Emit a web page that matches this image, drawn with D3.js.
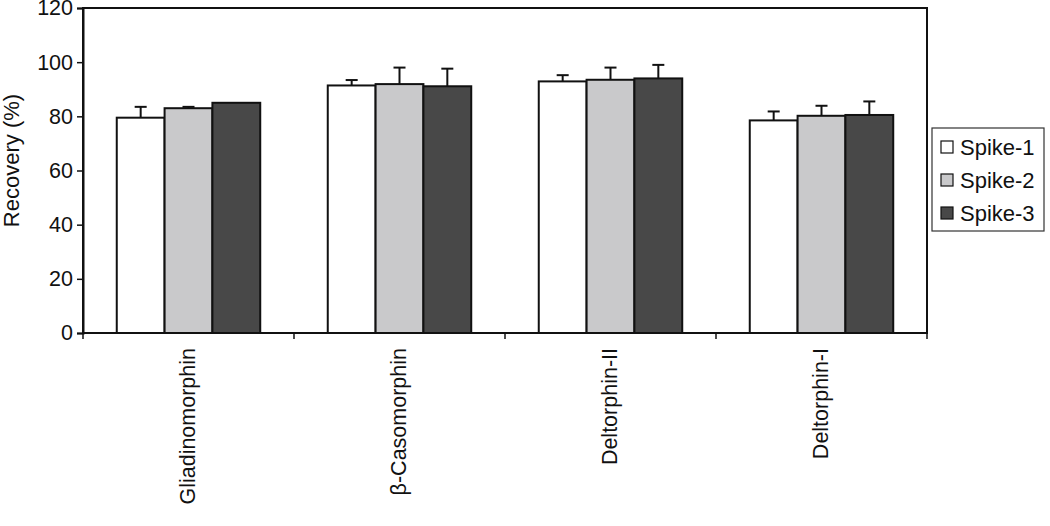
<!DOCTYPE html>
<html>
<head>
<meta charset="utf-8">
<script src="https://cdn.jsdelivr.net/npm/d3@7"></script>
<style>
  body { margin: 0; background: #fff; }
  svg { font-family: "Liberation Sans", Arial, sans-serif; }
</style>
</head>
<body>
<div id="chart"></div>
<script>
var width = 1050,
    height = 526;

var peptides = ["Gliadinomorphin", "\u03b2-Casomorphin", "Deltorphin-II", "Deltorphin-I"];
var spikes = ["Spike-1", "Spike-2", "Spike-3"];
var spike1 = [79.5, 91.4, 92.9, 78.5];
var spike2 = [83.0, 91.9, 93.5, 80.2];
var spike3 = [85.0, 91.1, 94.0, 80.5];
var err1 = [4.0, 2.0, 2.3, 3.3];
var err2 = [0.5, 6.1, 4.5, 3.7];
var err3 = [0.0, 6.5, 5.0, 5.0];
var yTicks = [0, 20, 40, 60, 80, 100, 120];
var fills = ["#ffffff", "#c9c9cb", "#484848"];

var values = [spike1, spike2, spike3],
    errors = [err1, err2, err3];

var plotLeft = 83, plotRight = 927, plotTop = 8, plotBottom = 333;

var svg = d3.select("#chart").append("svg")
    .attr("width", width)
    .attr("height", height);

var x0 = d3.scaleBand()
    .domain(peptides)
    .range([plotLeft, plotRight]);

var bw = x0.bandwidth();

var x1 = d3.scaleBand()
    .domain(spikes)
    .range([bw * 0.16, bw * 0.84]);

var y = d3.scaleLinear()
    .domain([0, 120])
    .range([plotBottom, plotTop]);

// build flat rows
var rows = [];
peptides.forEach(function(p, i) {
  spikes.forEach(function(s, j) {
    rows.push({ pep: p, spike: s, j: j, v: values[j][i], e: errors[j][i] });
  });
});

// plot frame
svg.append("rect")
    .attr("x", plotLeft)
    .attr("y", plotTop)
    .attr("width", plotRight - plotLeft)
    .attr("height", plotBottom - plotTop)
    .attr("fill", "none")
    .attr("stroke", "#111")
    .attr("stroke-width", 2);

function cx(d) { return x0(d.pep) + x1(d.spike) + x1.bandwidth() / 2; }

// error bars (drawn first so bars sit on top of the stem)
var eb = svg.append("g");
var withErr = rows.filter(function(d) { return d.e > 0; });
eb.selectAll("line.stem")
    .data(withErr)
    .enter().append("line")
    .attr("x1", cx)
    .attr("x2", cx)
    .attr("y1", function(d) { return y(d.v); })
    .attr("y2", function(d) { return y(d.v + d.e); })
    .attr("stroke", "#111")
    .attr("stroke-width", 2);
eb.selectAll("line.cap")
    .data(withErr)
    .enter().append("line")
    .attr("x1", function(d) { return cx(d) - 6; })
    .attr("x2", function(d) { return cx(d) + 6; })
    .attr("y1", function(d) { return y(d.v + d.e); })
    .attr("y2", function(d) { return y(d.v + d.e); })
    .attr("stroke", "#111")
    .attr("stroke-width", 2);

// bars
svg.append("g").selectAll("rect")
    .data(rows)
    .enter().append("rect")
    .attr("x", function(d) { return x0(d.pep) + x1(d.spike); })
    .attr("y", function(d) { return y(d.v); })
    .attr("width", x1.bandwidth())
    .attr("height", function(d) { return y(0) - y(d.v); })
    .attr("fill", function(d) { return fills[d.j]; })
    .attr("stroke", "#111")
    .attr("stroke-width", 2);

// y axis
var yAxis = svg.append("g")
    .attr("transform", "translate(" + plotLeft + ",0)")
    .call(d3.axisLeft(y).tickValues(yTicks).tickSize(6).tickPadding(4));
yAxis.select(".domain").attr("stroke", "#111").attr("stroke-width", 2);
yAxis.selectAll(".tick line").attr("stroke", "#111").attr("stroke-width", 1.5);
yAxis.selectAll("text")
    .attr("font-size", 21.5)
    .attr("font-family", "Liberation Sans, Arial, sans-serif")
    .attr("fill", "#111");

// x axis: ticks at group boundaries
var xAxis = svg.append("g")
    .attr("transform", "translate(0," + plotBottom + ")");
xAxis.append("line")
    .attr("x1", plotLeft).attr("x2", plotRight)
    .attr("stroke", "#111").attr("stroke-width", 2);
var bounds = peptides.map(function(p) { return x0(p); }).concat([plotRight]);
xAxis.selectAll("line.tick")
    .data(bounds)
    .enter().append("line")
    .attr("x1", function(d) { return d; })
    .attr("x2", function(d) { return d; })
    .attr("y1", 0).attr("y2", 6)
    .attr("stroke", "#111").attr("stroke-width", 1.5);

xAxis.selectAll("text")
    .data(peptides)
    .enter().append("text")
    .attr("transform", function(d) {
      return "translate(" + (x0(d) + bw / 2 + 6) + ",15) rotate(-90)";
    })
    .attr("text-anchor", "end")
    .attr("font-size", 21.5)
    .attr("fill", "#111")
    .text(function(d) { return d; });

// y title
svg.append("text")
    .attr("transform", "translate(19," + ((plotTop + plotBottom) / 2 - 10) + ") rotate(-90)")
    .attr("text-anchor", "middle")
    .attr("font-size", 22)
    .attr("fill", "#111")
    .text("Recovery (%)");

// legend
var lg = svg.append("g").attr("transform", "translate(932,128)");
lg.append("rect")
    .attr("width", 112)
    .attr("height", 103)
    .attr("fill", "#fff")
    .attr("stroke", "#333")
    .attr("stroke-width", 1.2);
var item = lg.selectAll("g.item")
    .data(spikes)
    .enter().append("g")
    .attr("transform", function(d, i) { return "translate(9," + (19 + i * 33) + ")"; });
item.append("rect")
    .attr("x", 0).attr("y", -6)
    .attr("width", 12).attr("height", 12)
    .attr("fill", function(d, i) { return fills[i]; })
    .attr("stroke", "#111")
    .attr("stroke-width", 1.2);
item.append("text")
    .attr("x", 19)
    .attr("y", 8)
    .attr("font-size", 22)
    .attr("fill", "#111")
    .text(function(d) { return d; });
</script>
</body>
</html>
